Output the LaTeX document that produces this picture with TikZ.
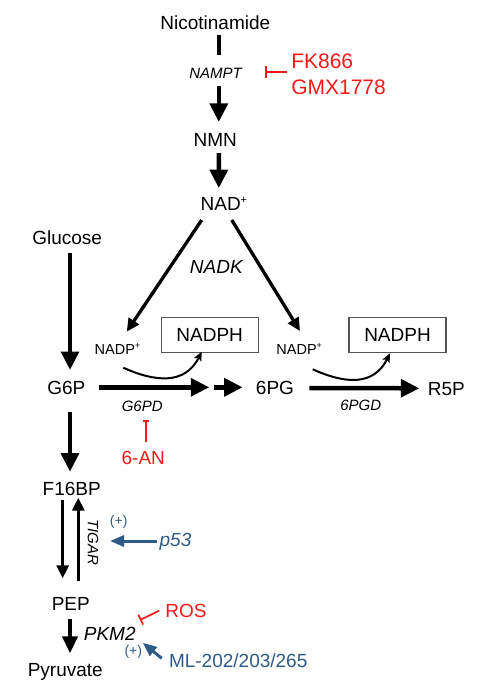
\documentclass[tikz,border=0pt]{standalone}
\usepackage{fontspec}
\setmainfont{Liberation Sans}
\usetikzlibrary{arrows.meta,calc}
\definecolor{inhred}{RGB}{250,25,25}
\definecolor{actblue}{RGB}{46,90,135}
\definecolor{boxgray}{RGB}{85,85,85}
\newcommand{\mysup}[2]{\raisebox{#1}{\fontsize{#2}{#2}\selectfont +}}
\begin{document}
\begin{tikzpicture}[x=1pt,y=-1pt,
  every node/.style={inner sep=0pt,outer sep=0pt},
  big/.style={font=\fontsize{19}{19}\selectfont,text height=13.6pt,text depth=0pt},
  bigit/.style={font=\fontsize{19}{19}\selectfont\itshape,text height=13.6pt,text depth=0pt},
  enz/.style={font=\fontsize{15}{15}\selectfont\itshape,text height=10.7pt,text depth=0pt},
  cof/.style={font=\fontsize{14.5}{14.5}\selectfont,text height=10.4pt,text depth=0pt},
  drug/.style={font=\fontsize{21}{21}\selectfont,text height=15pt,text depth=0pt,text=inhred},
  plus/.style={font=\fontsize{14}{14}\selectfont,text=actblue},
  nbox/.style={big,draw=boxgray,line width=1.2pt,minimum width=97pt,minimum height=35pt},
  stem/.style={line width=4.5pt},
  main/.style={line width=4.5pt,-{Triangle[length=18.5pt,width=17.5pt]}},
  main2/.style={line width=4.2pt,-{Triangle[length=17pt,width=15pt]}},
  mid/.style={line width=3.3pt,-{Triangle[length=13pt,width=12pt]}},
  curv/.style={line width=2pt,-{Stealth[length=9pt,width=8pt,inset=2pt]}},
  inh/.style={line width=1.7pt,draw=inhred},
  act/.style={line width=3pt,draw=actblue,-{Triangle[length=14pt,width=11pt]}}
]
\useasboundingbox (0,0) rectangle (493,690);

% nodes
\node[big] (nic) at (215.3,22.7) {Nicotinamide};
\node[enz] (nampt) at (215.5,73) {NAMPT};
\node[drug,anchor=west] (fk) at (291.3,60.8) {FK866};
\node[drug,anchor=west] (gmx) at (291.3,87.5) {GMX1778};
\node[big] (nmn) at (215.3,140) {NMN};
\node[big] (nad) at (223.9,203.3) {NAD\mysup{7pt}{11}};
\node[bigit] (nadk) at (216.3,266.7) {NADK};
\node[big] (glc) at (67.2,238) {Glucose};
\node[cof] (nadpL) at (117.5,349) {NADP\mysup{5.5pt}{9}};
\node[cof] (nadpR) at (299.2,349) {NADP\mysup{5.5pt}{9}};
\node[nbox] (boxL) at (209.7,335) {NADPH};
\node[nbox] (boxR) at (397.5,335) {NADPH};
\node[big] (g6p) at (66.3,388) {G6P};
\node[big] (pg) at (275,388) {6PG};
\node[big] (r5p) at (446.3,388.7) {R5P};
\node[enz] (g6pd) at (142.2,405.8) {G6PD};
\node[enz] (pgd) at (360.8,404.7) {6PGD};
\node[big,text=inhred] (an) at (143.3,457.2) {6-AN};
\node[big] (f16) at (71.7,488.3) {F16BP};
\node[enz,rotate=-90] (tigar) at (93.3,542.5) {TIGAR};
\node[plus] (plusA) at (118.7,521.7) {(+)};
\node[bigit,text=actblue] (p53) at (175.5,540) {p53};
\node[big] (pep) at (70.8,604) {PEP};
\node[bigit] (pkm) at (109.7,633.7) {PKM2};
\node[big,text=inhred] (ros) at (186,611) {ROS};
\node[plus] (plusB) at (133.3,651.7) {(+)};
\node[big,text=actblue,anchor=west] (ml) at (169,661) {ML-202/203/265};
\node[big] (pyr) at (65.3,670) {Pyruvate};

% NAD synthesis
\draw[stem] ($(nic.south)+(3.5,5.5)$) -- ($(nampt.north)+(3.3,-12.6)$);
\draw[main] ($(nampt.south)+(3.3,7.6)$) -- ($(nmn.north)+(3.5,-11.2)$);
\draw[main] ($(nmn.south)+(3.5,6.2)$) -- ($(nad.north)+(-5.1,-8.3)$);
\draw[inh,-{Bar[width=12pt]}] ($(fk.west)+(-4.3,11.2)$) -- ($(nampt.east)+(23.2,-1)$);

% NADK
\draw[mid] ($(nad.south)+(-22.2,9.9)$) -- ($(nadpL.north)+(9.2,-12.1)$);
\draw[mid] ($(nad.south)+(7.8,9.9)$) -- ($(nadpR.north)+(0.8,-12.8)$);

% NADPH curves
\draw[curv] ($(nadpL.south)+(5.8,13.5)$) .. controls +(31.7,14.3) and +(-16.7,33.3) .. ($(boxL.south)+(-8,-0.8)$);
\draw[curv] ($(nadpR.south)+(13.5,15.1)$) .. controls +(31.7,14.3) and +(-16.7,33.3) .. ($(boxR.south)+(-7.5,0.8)$);

% pentose phosphate
\coordinate (m1) at (209.3,387.3);
\coordinate (m2) at (214,387.3);
\draw[main] ($(g6p.east)+(14,-0.7)$) -- (m1);
\draw[main] (m2) -- ($(pg.west)+(-13.3,-0.7)$);
\draw[main] ($(pg.east)+(15.3,0)$) -- ($(r5p.west)+(-8.5,-0.4)$);
\draw[inh,-{Bar[width=6pt]}] ($(an.north)+(2.4,-8.7)$) -- ($(g6pd.south)+(3.5,8.9)$);

% glycolysis
\draw[main] ($(glc.south)+(2.8,8.5)$) -- ($(g6p.north)+(3.7,-11.2)$);
\draw[main] ($(g6p.south)+(3.7,16.9)$) -- ($(f16.north)+(-1.7,-9.8)$);
\draw[mid] ($(f16.south)+(-9,4.9)$) -- ($(pep.north)+(-8.1,-18.9)$);
\draw[mid] ($(pep.north)+(7.5,-16.2)$) -- ($(f16.south)+(6.6,2.6)$);
\draw[main2] ($(pep.south)+(-0.8,8.5)$) -- ($(pyr.north)+(4.7,-9.9)$);

% regulators
\draw[act] ($(p53.west)+(-2.3,1)$) -- ($(tigar.center)+(16.7,-1.5)$);
\draw[act] ($(ml.west)+(-7.3,-2.7)$) -- ($(pkm.center)+(33,9)$);
\draw[inh,-{Bar[width=11pt]}] ($(ros.west)+(-6.2,-0.3)$) -- ($(pkm.center)+(30.3,-13.7)$);
\end{tikzpicture}
\end{document}
